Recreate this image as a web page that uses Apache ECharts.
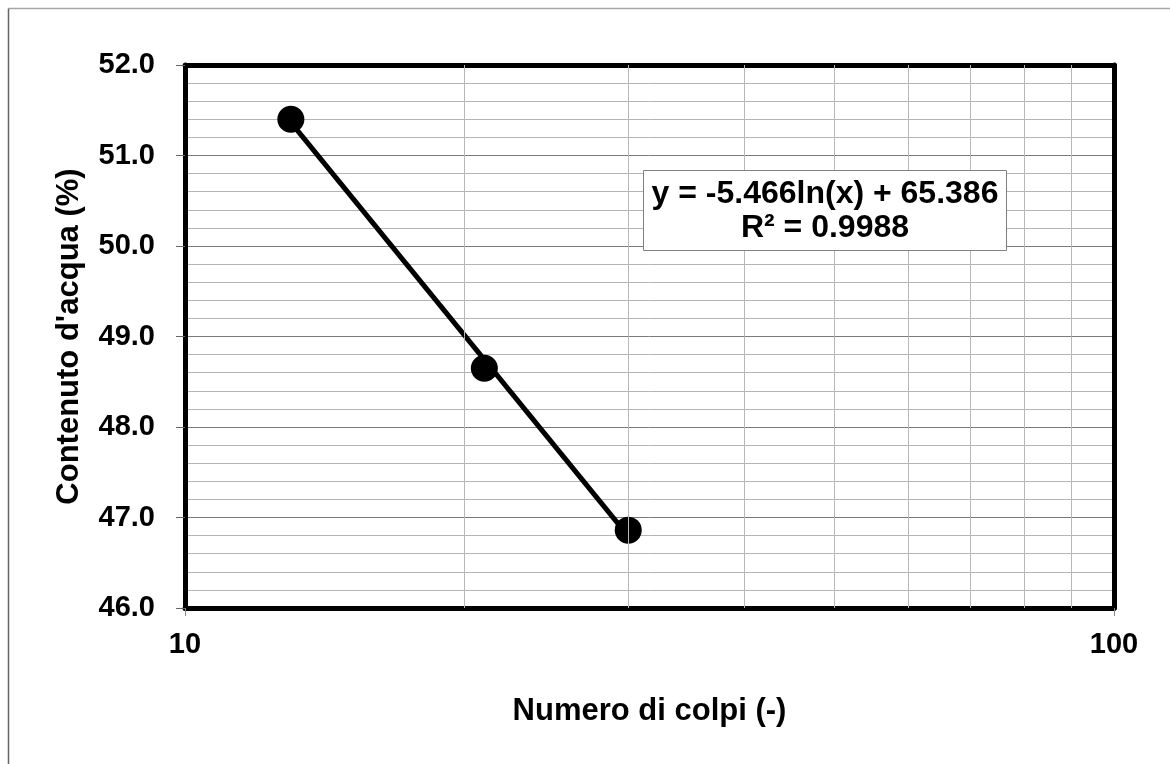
<!DOCTYPE html>
<html>
<head>
<meta charset="utf-8">
<title>Limite di liquidità</title>
<script src="https://cdn.jsdelivr.net/npm/echarts@6/dist/echarts.min.js"></script>
<style>
  html, body { margin: 0; padding: 0; background: #ffffff; }
  #chart { width: 1170px; height: 764px; }
</style>
</head>
<body>
<div id="chart"></div>
<script>
// Prova di Casagrande: numero di colpi vs contenuto d'acqua
const colpi = [13, 21, 30];
const contenutoAcqua = [51.40, 48.65, 46.86];

// Linea di tendenza logaritmica: y = a ln(x) + b
const trendCoef = [-5.466, 65.386];
const trendR2 = 0.9988;

// Linee verticali della griglia logaritmica
const logGridValues = [20, 30, 40, 50, 60, 70, 80, 90];

// Assi
const xRange = [10, 100];
const yRange = [46, 52];
const yStep = 1;

const FONT = '"Liberation Sans", Arial, Helvetica, sans-serif';

const points = colpi.map((c, i) => [c, contenutoAcqua[i]]);
const xFitMin = Math.min(...colpi);
const xFitMax = Math.max(...colpi);
const trendLine = [xFitMin, xFitMax].map(x => [x, trendCoef[0] * Math.log(x) + trendCoef[1]]);

const eqText = 'y = ' + trendCoef[0].toFixed(3) + 'ln(x) + ' + trendCoef[1].toFixed(3);
const r2Text = 'R² = ' + trendR2.toFixed(4);

const chart = echarts.init(document.getElementById('chart'), null, { renderer: 'canvas' });

const frameAxisLine = { show: true, onZero: false, lineStyle: { color: '#000000', width: 5 } };

chart.setOption({
  backgroundColor: '#ffffff',
  animation: false,
  textStyle: { fontFamily: FONT },
  grid: { left: 185, right: 56, top: 65, bottom: 156, containLabel: false },
  xAxis: [
    {
      type: 'log',
      logBase: 10,
      min: xRange[0],
      max: xRange[1],
      position: 'bottom',
      axisLine: frameAxisLine,
      axisTick: { show: true, length: 8, lineStyle: { color: '#888888', width: 1 } },
      axisLabel: {
        color: '#000000', fontSize: 29, fontWeight: 'bold', fontFamily: FONT, margin: 22,
        formatter: v => String(Math.round(v))
      },
      splitLine: { show: false },
      name: 'Numero di colpi (-)',
      nameLocation: 'middle',
      nameGap: 88,
      nameTextStyle: { color: '#000000', fontSize: 31, fontWeight: 'bold', fontFamily: FONT }
    },
    {
      type: 'log',
      logBase: 10,
      min: xRange[0],
      max: xRange[1],
      position: 'top',
      axisLine: frameAxisLine,
      axisTick: { show: false },
      axisLabel: { show: false },
      splitLine: { show: false }
    }
  ],
  yAxis: [
    {
      type: 'value',
      min: yRange[0],
      max: yRange[1],
      interval: yStep,
      position: 'left',
      axisLine: frameAxisLine,
      axisTick: { show: true, length: 9, lineStyle: { color: '#666666', width: 1 } },
      axisLabel: {
        color: '#000000', fontSize: 29, fontWeight: 'bold', fontFamily: FONT, margin: 30,
        formatter: v => v.toFixed(1)
      },
      splitLine: { show: true, lineStyle: { color: '#7a7a7a', width: 1 } },
      minorTick: { show: false, splitNumber: 5 },
      minorSplitLine: { show: true, lineStyle: { color: '#b4b4b4', width: 1 } },
      name: "Contenuto d'acqua (%)",
      nameLocation: 'middle',
      nameGap: 100,
      nameTextStyle: { color: '#000000', fontSize: 31, fontWeight: 'bold', fontFamily: FONT }
    },
    {
      type: 'value',
      min: yRange[0],
      max: yRange[1],
      interval: yStep,
      position: 'right',
      axisLine: frameAxisLine,
      axisTick: { show: false },
      axisLabel: { show: false },
      splitLine: { show: false }
    }
  ],
  series: [
    {
      // griglia verticale ai valori intermedi della scala logaritmica
      type: 'line',
      data: [],
      silent: true,
      markLine: {
        silent: true,
        symbol: 'none',
        label: { show: false },
        lineStyle: { color: '#b8b8b8', width: 1, type: 'solid' },
        data: logGridValues.map(v => ({ xAxis: v }))
      },
      z: 1
    },
    {
      name: 'Tendenza',
      type: 'line',
      data: trendLine,
      showSymbol: false,
      lineStyle: { color: '#000000', width: 5 },
      z: 3
    },
    {
      name: 'Dati',
      type: 'scatter',
      data: points,
      symbol: 'circle',
      symbolSize: 27,
      itemStyle: { color: '#000000', opacity: 1 },
      z: 4
    }
  ],
  graphic: [
    {
      type: 'line',
      shape: { x1: 8.5, y1: 8.5, x2: 1170, y2: 8.5 },
      style: { stroke: '#a6a6a6', lineWidth: 1.5 },
      silent: true
    },
    {
      type: 'line',
      shape: { x1: 8.5, y1: 8.5, x2: 8.5, y2: 764 },
      style: { stroke: '#666666', lineWidth: 1.5 },
      silent: true
    },
    {
      type: 'group',
      left: 643,
      top: 170,
      z: 100,
      children: [
        {
          type: 'rect',
          z: 100,
          shape: { x: 0.5, y: 0.5, width: 363, height: 80 },
          style: { fill: '#ffffff', stroke: '#7f7f7f', lineWidth: 1 }
        },
        {
          type: 'text',
          z: 101,
          x: 182, y: 24,
          style: {
            text: eqText, fill: '#000000', font: 'bold 32px ' + FONT,
            align: 'center', verticalAlign: 'middle'
          }
        },
        {
          type: 'text',
          z: 101,
          x: 182, y: 58,
          style: {
            text: r2Text, fill: '#000000', font: 'bold 32px ' + FONT,
            align: 'center', verticalAlign: 'middle'
          }
        }
      ]
    }
  ]
});
</script>
</body>
</html>
